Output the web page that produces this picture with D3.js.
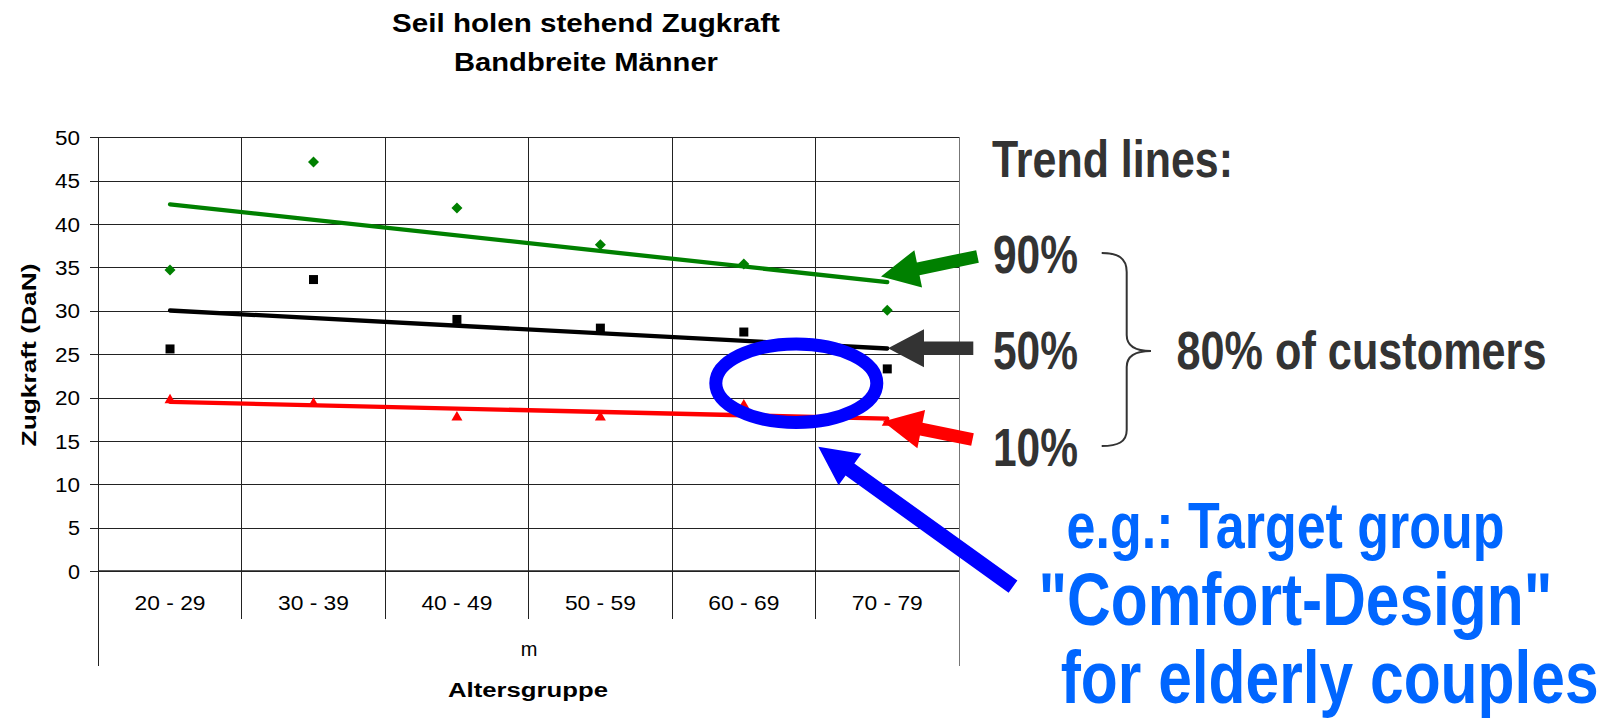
<!DOCTYPE html>
<html><head><meta charset="utf-8">
<script src="https://cdn.jsdelivr.net/npm/d3@7"></script>
<style>html,body{margin:0;padding:0;background:#fff;} svg{display:block;}</style>
</head><body><svg id="c" width="1614" height="718"></svg>
<script>
// ---------- data ----------
const categories = ["20 - 29","30 - 39","40 - 49","50 - 59","60 - 69","70 - 79"];
const p90 = [34.7, 47.15, 41.85, 37.6, 35.4, 30.05];
const p50 = [25.6, 33.6, 29.0, 28.0, 27.55, 23.3];
const p10 = [19.8, 19.4, 17.8, 17.8, 19.2, 17.2];
const yTicks = [0,5,10,15,20,25,30,35,40,45,50];
const titleLines = ["Seil holen stehend Zugkraft","Bandbreite Männer"];
const yLabel = "Zugkraft (DaN)";
const xSubLabel = "m";
const xLabel = "Altersgruppe";
const trendHeading = "Trend lines:";
const trendLabels = ["90%","50%","10%"];
const braceLabel = "80% of customers";
const targetLines = ["e.g.: Target group","\"Comfort-Design\"","for elderly couples"];

// ---------- setup ----------
const FONT = "'Liberation Sans', Arial, Helvetica, sans-serif";
const svg = d3.select("#c");
svg.append("rect").attr("width",1614).attr("height",718).attr("fill","#fff");

const X0 = 98.3, X1 = 959, Y0 = 571, Y1 = 137.3;
const x = d3.scaleBand().domain(categories).range([X0, X1]);
const y = d3.scaleLinear().domain([0,50]).range([Y0, Y1]);
const cx = c => x(c) + x.bandwidth()/2;

// text placed at (px,py); if o.len given, glyphs are scaled horizontally to that width
function addText(sel, s, px, py, o) {
  const t = sel.append("text").attr("x",0).attr("y",0).text(s)
    .attr("font-family", FONT).attr("font-size", o.size)
    .attr("font-weight", o.bold ? "bold" : "normal")
    .attr("fill", o.fill || "#000")
    .attr("text-anchor", o.anchor || "start");
  let sx = 1;
  if (o.len) { const nat = t.node().getComputedTextLength(); if (nat > 0) sx = o.len / nat; }
  const rot = o.rotate ? ` rotate(${o.rotate})` : "";
  t.attr("transform", `translate(${px},${py})${rot} scale(${sx},1)`);
  return t;
}

// ---------- title ----------
addText(svg, titleLines[0], 586, 32, {size:26, bold:true, anchor:"middle", len:388});
addText(svg, titleLines[1], 586, 71, {size:26, bold:true, anchor:"middle", len:264});

// ---------- grid ----------
const grid = svg.append("g").attr("transform",`translate(${X0},0)`)
  .call(d3.axisLeft(y).tickValues(yTicks).tickSize(-(X1-X0)).tickFormat(""));
grid.select(".domain").remove();
grid.selectAll("line").attr("stroke","#222").attr("stroke-width",1).attr("shape-rendering","crispEdges");

// vertical category separators (inside plot + below axis)
const bounds = categories.map(c => x(c)).concat([X1]);
bounds.forEach((bx, i) => {
  const bottom = (i === 0 || i === bounds.length-1) ? 666 : 619;
  svg.append("line").attr("x1",bx).attr("x2",bx).attr("y1",Y1).attr("y2",bottom)
    .attr("stroke", i === bounds.length-1 ? "#777" : "#222").attr("stroke-width",1)
    .attr("shape-rendering","crispEdges");
});
// x axis line
svg.append("line").attr("x1",X0).attr("x2",X1).attr("y1",Y0).attr("y2",Y0)
  .attr("stroke","#222").attr("stroke-width",1.5);

// y axis ticks + labels
const yAxis = svg.append("g").attr("transform",`translate(${X0},0)`)
  .call(d3.axisLeft(y).tickValues(yTicks).tickSize(8).tickPadding(10.3));
yAxis.select(".domain").remove();
yAxis.selectAll("line").attr("stroke","#222").attr("shape-rendering","crispEdges");
yAxis.selectAll("text").attr("font-family",FONT).attr("font-size",20).attr("fill","#000")
  .attr("dy","0.36em")
  .attr("textLength", d => String(d).length > 1 ? 25 : 12)
  .attr("lengthAdjust","spacingAndGlyphs");

// x category labels
const xAxis = svg.append("g").attr("transform",`translate(0,${Y0})`)
  .call(d3.axisBottom(x).tickSize(0).tickPadding(0));
xAxis.select(".domain").remove();
xAxis.selectAll("text").attr("font-family",FONT).attr("font-size",21).attr("fill","#000")
  .attr("dy",null).attr("y",39)
  .attr("textLength",71).attr("lengthAdjust","spacingAndGlyphs");

addText(svg, xSubLabel, 529, 656, {size:20, anchor:"middle"});
addText(svg, xLabel, 528, 697, {size:21, bold:true, anchor:"middle", len:160});
addText(svg, yLabel, 36, 355, {size:21, bold:true, anchor:"middle", len:183, rotate:-90});

// ---------- trend lines (least squares, as in the original spreadsheet) ----------
function trend(vals) {
  const n = vals.length, xs = d3.range(n);
  const mx = d3.mean(xs), my = d3.mean(vals);
  const b = d3.sum(xs, (xi,i) => (xi-mx)*(vals[i]-my)) / d3.sum(xs, xi => (xi-mx)*(xi-mx));
  const a = my - b*mx;
  return [[cx(categories[0]), y(a)], [cx(categories[n-1]), y(a + b*(n-1))]];
}
const series = [
  {vals:p90, color:"#008000", shape:"diamond"},
  {vals:p50, color:"#000000", shape:"square"},
  {vals:p10, color:"#ff0000", shape:"triangle"}
];
series.forEach(s => {
  svg.append("path").attr("d", d3.line()(trend(s.vals)))
    .attr("stroke", s.color).attr("stroke-width",4.3).attr("fill","none").attr("stroke-linecap","round");
});
function shapePath(shape, px, py) {
  if (shape === "diamond") return `M${px},${py-5.5}L${px+5.5},${py}L${px},${py+5.5}L${px-5.5},${py}Z`;
  if (shape === "square") return `M${px-4.5},${py-4.5}h9v9h-9Z`;
  return `M${px},${py-5.5}L${px+5.5},${py+4}L${px-5.5},${py+4}Z`;
}
series.forEach(s => {
  svg.append("g").selectAll("path").data(s.vals).join("path")
    .attr("d", (v,i) => shapePath(s.shape, cx(categories[i]), y(v)))
    .attr("fill", s.color);
});

// ---------- annotations ----------
svg.append("ellipse").attr("cx",796.3).attr("cy",383.2).attr("rx",80.5).attr("ry",39.3)
  .attr("fill","none").attr("stroke","#0000ff").attr("stroke-width",13);

function arrow(tip, tail, shaftW, headL, headW, color) {
  const dx = tail[0]-tip[0], dy = tail[1]-tip[1], L = Math.hypot(dx,dy);
  const ux = dx/L, uy = dy/L, nx = -uy, ny = ux;
  const bx = tip[0]+ux*headL, by = tip[1]+uy*headL;
  const pts = [
    tip,
    [bx+nx*headW/2, by+ny*headW/2],
    [bx+nx*shaftW/2, by+ny*shaftW/2],
    [tail[0]+nx*shaftW/2, tail[1]+ny*shaftW/2],
    [tail[0]-nx*shaftW/2, tail[1]-ny*shaftW/2],
    [bx-nx*shaftW/2, by-ny*shaftW/2],
    [bx-nx*headW/2, by-ny*headW/2]
  ];
  svg.append("polygon").attr("points", pts.map(p=>p.join(",")).join(" ")).attr("fill", color);
}
arrow([881,276.5],[977.5,256.5],13,38,38,"#008000");
arrow([888,348.3],[973.3,348.3],13.5,36,38,"#333333");
arrow([883,421.5],[972.5,439.5],13,39,39,"#ff0000");
arrow([818.3,446.7],[1013,586.7],15,39,39,"#0000ff");

const dark = "#333333";
addText(svg, trendHeading, 992, 177, {size:52, bold:true, fill:dark, len:241});
const labelY = [273, 369, 466];
trendLabels.forEach((t,i) => addText(svg, t, 993, labelY[i], {size:53, bold:true, fill:dark, len:85}));
addText(svg, braceLabel, 1176.5, 369, {size:53, bold:true, fill:dark, len:370});

svg.append("path")
  .attr("d","M1101.7,253 C1118,253 1126.7,258 1126.7,272 L1126.7,335 C1126.7,346 1135,351 1151,351 C1135,351 1126.7,356 1126.7,367 L1126.7,430 C1126.7,442 1118,446 1101.7,446")
  .attr("fill","none").attr("stroke",dark).attr("stroke-width",2);

const blue = "#0066ff";
addText(svg, targetLines[0], 1066.6, 548, {size:64, bold:true, fill:blue, len:438});
addText(svg, targetLines[1], 1038.4, 625, {size:75, bold:true, fill:blue, len:514});
addText(svg, targetLines[2], 1060.7, 703, {size:74, bold:true, fill:blue, len:538});
</script>
</body></html>
